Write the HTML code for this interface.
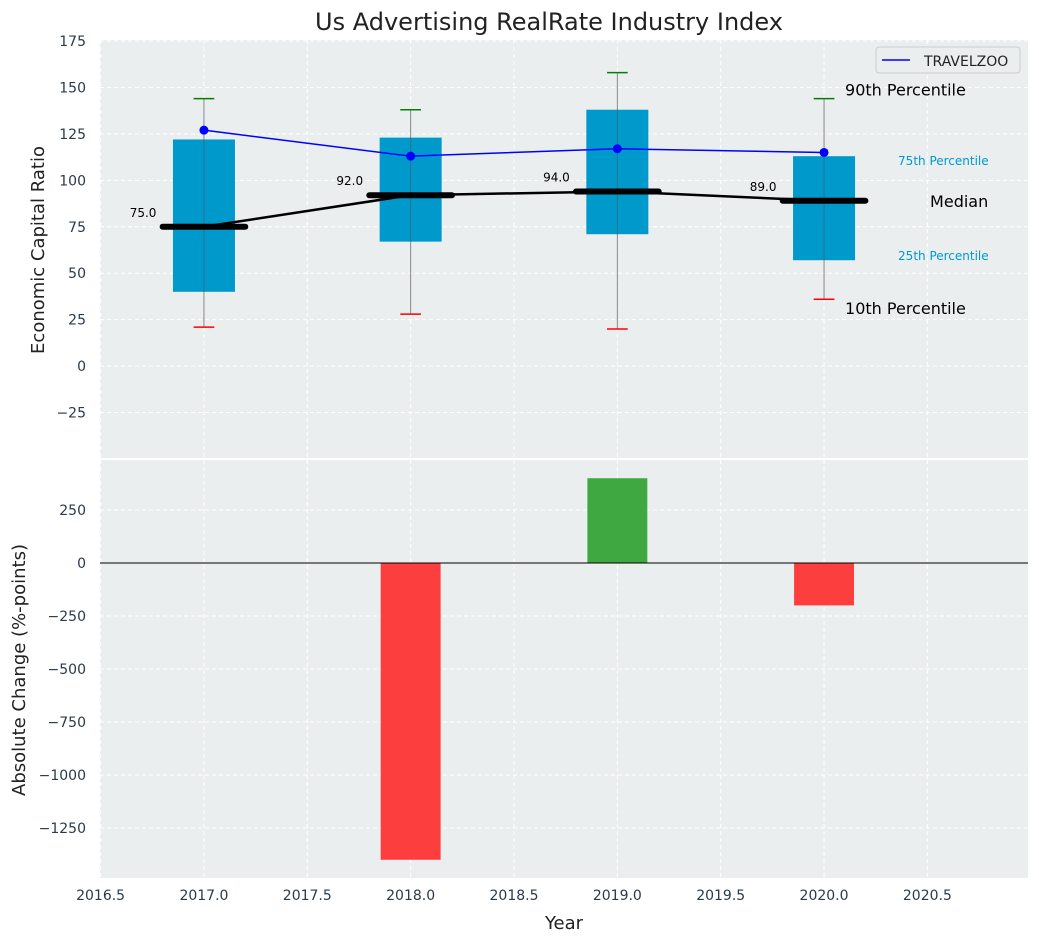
<!DOCTYPE html>
<html><head><meta charset="utf-8"><style>
body{margin:0;background:#fff;font-family:"Liberation Sans","DejaVu Sans",sans-serif;}
</style></head><body>
<svg id="chart" width="1039" height="942" xmlns="http://www.w3.org/2000/svg" font-family="DejaVu Sans, Liberation Sans, sans-serif"></svg>
<script>
const years=[2017,2018,2019,2020];
const q1=[40,67,71,57];
const q3=[122,123,138,113];
const medians=[75,92,94,89];
const p10=[21,28,20,36];
const p90=[144,138,158,144];
const travelzoo=[127,113,117,115];
const changes=[0,-1400,400,-200];
const xTicks=[2016.5,2017,2017.5,2018,2018.5,2019,2019.5,2020,2020.5];
const topTicks=[-25,0,25,50,75,100,125,150,175];
const botTicks=[-1250,-1000,-750,-500,-250,0,250];

const NS="http://www.w3.org/2000/svg";
const svg=document.getElementById('chart');
const L=100,R=1028,T1=40,B1=458,T2=460,B2=878;
const x=v=>100.6+(v-2016.5)*206.7;
const y1=v=>T1+(175-v)/225*(B1-T1)+1;
const y2=v=>T2+(486-v)/(486+1486)*(B2-T2);
function el(t,a,p){const e=document.createElementNS(NS,t);for(const k in a)e.setAttribute(k,a[k]);(p||svg).appendChild(e);return e;}
function tx(s,a){const e=el('text',a);e.textContent=s;return e;}

let e=el('rect',{x:L,y:T1,width:R-L,height:B1-T1,fill:'#eaeeef'});

e=el('rect',{x:L,y:T2,width:R-L,height:B2-T2,fill:'#eaeeef'});


xTicks.forEach(t=>{
 [[T1,B1],[T2,B2]].forEach(([a,b])=>{el('line',{x1:x(t),x2:x(t),y1:a,y2:b,stroke:'#fff','stroke-dasharray':'4,3'});});
 e=tx(t.toFixed(1),{x:x(t),y:B2+22,'font-size':14,fill:'#2b3a4a','text-anchor':'middle'});
 
});
topTicks.forEach(t=>{
 el('line',{x1:L,x2:R,y1:y1(t),y2:y1(t),stroke:'#fff','stroke-dasharray':'4,3'});
 e=tx(t<0?'\u2212'+(-t):t,{x:L-14,y:y1(t)+5,'font-size':14,fill:'#2b3a4a','text-anchor':'end'});
 
});
botTicks.forEach(t=>{
 el('line',{x1:L,x2:R,y1:y2(t),y2:y2(t),stroke:'#fff','stroke-dasharray':'4,3'});
 e=tx(t<0?'\u2212'+(-t):t,{x:L-14,y:y2(t)+5,'font-size':14,fill:'#2b3a4a','text-anchor':'end'});
 
});

const bw=0.3/2;
years.forEach((yr,i)=>{
 e=el('line',{x1:x(yr),x2:x(yr),y1:y1(p90[i]),y2:y1(p10[i]),stroke:'#888','stroke-width':1});
 
 e=el('rect',{x:x(yr-bw),y:y1(q3[i]),width:x(yr+bw)-x(yr-bw),height:y1(q1[i])-y1(q3[i]),fill:'#0099cc'});
 
 el('line',{x1:x(yr),x2:x(yr),y1:y1(q3[i]),y2:y1(q1[i]),stroke:'#555','stroke-width':1,opacity:0.6});
 e=el('line',{x1:x(yr-0.05),x2:x(yr+0.05),y1:y1(p90[i]),y2:y1(p90[i]),stroke:'green','stroke-width':1.5});
 
 e=el('line',{x1:x(yr-0.05),x2:x(yr+0.05),y1:y1(p10[i]),y2:y1(p10[i]),stroke:'red','stroke-width':1.5});
 
});
e=el('polyline',{points:years.map((yr,i)=>x(yr)+','+y1(medians[i])).join(' '),fill:'none',stroke:'#000','stroke-width':2.5});

years.forEach((yr,i)=>{
 e=el('line',{x1:x(yr-0.2),x2:x(yr+0.2),y1:y1(medians[i]),y2:y1(medians[i]),stroke:'#000','stroke-width':6,'stroke-linecap':'round'});
 
 e=tx(medians[i].toFixed(1),{x:x(yr-0.23),y:y1(medians[i])-10,'font-size':12,fill:'#000','text-anchor':'end'});
 
});
e=el('polyline',{points:years.map((yr,i)=>x(yr)+','+y1(travelzoo[i])).join(' '),fill:'none',stroke:'blue','stroke-width':1.5});

years.forEach((yr,i)=>{e=el('circle',{cx:x(yr),cy:y1(travelzoo[i]),r:4.5,fill:'blue'});
 });

const last=years.length-1, lx=x(years[last]);
[['90th Percentile',lx+21,y1(p90[last])-3,16,'#000'],['75th Percentile',lx+74,y1(q3[last])+9,12,'#0099cc'],
 ['Median',lx+106,y1(medians[last])+6,16,'#000'],['25th Percentile',lx+74,y1(q1[last])+0,12,'#0099cc'],
 ['10th Percentile',lx+21,y1(p10[last])+15,16,'#000']].forEach(a=>{
 e=tx(a[0],{x:a[1],y:a[2],'font-size':a[3],fill:a[4]});
 
});

e=el('rect',{x:876,y:47,width:144,height:26,fill:'#eaeeef',stroke:'#ccc',rx:3});

el('line',{x1:882,x2:910,y1:60,y2:60,stroke:'blue','stroke-width':1.5});
e=tx('TRAVELZOO',{x:924,y:66,'font-size':14,fill:'#222'});


const bb=0.145;
years.forEach((yr,i)=>{
 const v=changes[i]; if(v===0)return;
 e=el('rect',{x:x(yr-bb),y:Math.min(y2(v),y2(0)),width:x(yr+bb)-x(yr-bb),height:Math.abs(y2(v)-y2(0)),fill:v>0?'#2ca02c':'#ff2a2a',opacity:0.9});
 
});
el('line',{x1:L,x2:R,y1:y2(0),y2:y2(0),stroke:'#000','stroke-width':1});

e=tx('Us Advertising RealRate Industry Index',{x:549,y:30,'font-size':24,fill:'#222','text-anchor':'middle'});

e=tx('Economic Capital Ratio',{x:0,y:0,'font-size':18,fill:'#222','text-anchor':'middle',transform:'translate(44,250) rotate(-90)'});

e=tx('Absolute Change (%-points)',{x:0,y:0,'font-size':18,fill:'#222','text-anchor':'middle',transform:'translate(25,670) rotate(-90)'});

e=tx('Year',{x:564,y:929,'font-size':18,fill:'#222','text-anchor':'middle'});

</script>
</body></html>
